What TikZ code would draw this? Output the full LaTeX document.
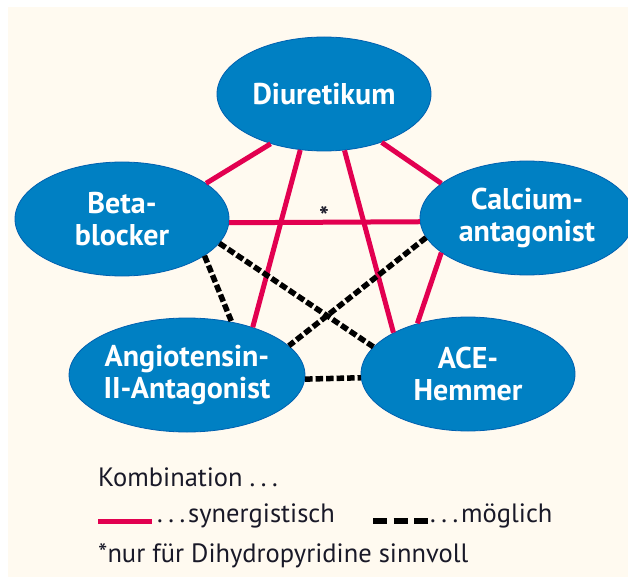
\documentclass[tikz,border=0pt]{standalone}
\usepackage{fontspec}
\setmainfont{PT Sans}
\usetikzlibrary{shapes.geometric}
\definecolor{cream}{RGB}{255,250,240}
\definecolor{pillblue}{RGB}{0,128,195}
\definecolor{pillrim}{RGB}{0,96,176}
\definecolor{synred}{RGB}{226,0,80}
\definecolor{inkdark}{RGB}{25,25,40}
\newcommand{\dotsp}{.\hspace{5.5pt}.\hspace{5.5pt}.}
\tikzset{
	drug/.style={ellipse, fill=pillblue, draw=pillrim, line width=0.8pt,
		minimum width=214pt, minimum height=114pt, inner sep=0pt,
		text=white, align=center, font=\bfseries\fontsize{30}{32}\selectfont},
	syn/.style={synred, line width=5pt},
	mog/.style={black, line width=5.5pt, dash pattern=on 7.5pt off 3pt},
	legend/.style={anchor=base west, text=inkdark, inner sep=0pt,
		font=\fontsize{26.5}{28}\selectfont}
}
\begin{document}
\begin{tikzpicture}[x=1pt, y=-1pt, line join=round]
			\useasboundingbox (0,0) rectangle (628,577);
			\fill[cream] (8,7) rectangle (628,577);
			% Wirkstoffgruppen
			\node[drug] (diu)   at (324, 94)  {Diuretikum};
			\node[drug] (beta)  at (122, 219) {Beta-\\blocker};
			\node[drug] (calc)  at (527, 218) {Calcium-\\antagonist};
			\node[drug] (angio) at (187, 375) {Angiotensin-\\II-Antagonist};
			\node[drug] (ace)   at (468, 374) {ACE-\\Hemmer};
			% synergistisch
			\draw[syn] (diu.223) -- (beta.23);
			\draw[syn] (diu.320) -- (calc.158);
			\draw[syn] (diu.247) -- (angio.36);
			\draw[syn] (diu.290) -- (ace.151);
			\draw[syn] (beta.-2) -- (calc.182.5);
			\draw[syn] (calc.202) -- (ace.135);
			% moeglich
			\draw[mog] (beta.336) -- (angio.50);
			\draw[mog] (beta.346) -- (ace.164);
			\draw[mog] (calc.191) -- (angio.16);
			\draw[mog] (angio.-2) -- (ace.182);
			\node[text=inkdark, font=\bfseries\fontsize{26}{26}\selectfont] (star) at (324, 216) {*};
			% Legende
			\node[legend] (komb) at (98, 486) {Kombination \dotsp};
			\draw[syn] (98, 521) -- (152, 521);
			\node[legend] (syntxt) at (157, 522) {\dotsp\hspace{3pt}synergistisch};
			\draw[black, line width=5.5pt, dash pattern=on 14pt off 6.5pt] (373, 521) -- (428, 521);
			\node[legend] (mogtxt) at (430, 522) {\dotsp\hspace{3pt}möglich};
			\node[legend] (note) at (98, 562) {*nur für Dihydropyridine sinnvoll};
\end{tikzpicture}
\end{document}
